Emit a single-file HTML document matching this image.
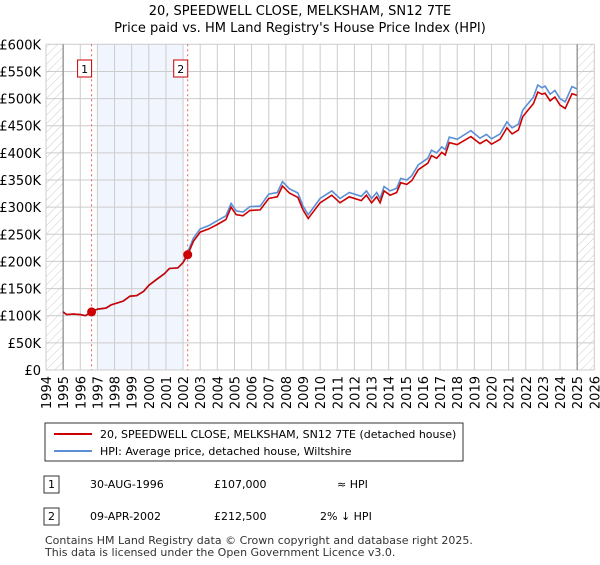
<!DOCTYPE html>
<html><head><meta charset="utf-8"><style>
body{margin:0;background:#fff;font-family:"Liberation Sans",sans-serif}
svg text{font-family:"DejaVu Sans","Liberation Sans",sans-serif}
</style></head><body>
<svg width="600" height="560" xmlns="http://www.w3.org/2000/svg">
<defs><pattern id="hatch" width="6" height="6" patternUnits="userSpaceOnUse" patternTransform="rotate(45)"><line x1="0" y1="0" x2="0" y2="6" stroke="#ccc" stroke-width="1"/></pattern></defs>
<text x="300" y="15" text-anchor="middle" font-size="13">20, SPEEDWELL CLOSE, MELKSHAM, SN12 7TE</text>
<text x="300" y="32" text-anchor="middle" font-size="13">Price paid vs. HM Land Registry's House Price Index (HPI)</text>
<g id="plot"></g>
<g>
<rect x="45" y="423" width="418" height="38" fill="#fff" stroke="#333"/>
<line x1="54" y1="434" x2="92" y2="434" stroke="#cc0000" stroke-width="2"/>
<text x="100" y="438" font-size="11">20, SPEEDWELL CLOSE, MELKSHAM, SN12 7TE (detached house)</text>
<line x1="54" y1="451" x2="92" y2="451" stroke="#5b8fd6" stroke-width="2"/>
<text x="100" y="455" font-size="11">HPI: Average price, detached house, Wiltshire</text>
</g>
<g font-size="11">
<rect x="44" y="476" width="15" height="17" fill="#fff" stroke="#333"/>
<text x="51.5" y="488" text-anchor="middle">1</text>
<text x="90" y="488">30-AUG-1996</text>
<text x="214" y="488">£107,000</text>
<text x="337" y="488">≈ HPI</text>
<rect x="44" y="508" width="15" height="17" fill="#fff" stroke="#333"/>
<text x="51.5" y="520" text-anchor="middle">2</text>
<text x="90" y="520">09-APR-2002</text>
<text x="214" y="520">£212,500</text>
<text x="320" y="520">2% ↓ HPI</text>
</g>
<text x="45" y="544" font-size="11" fill="#333">Contains HM Land Registry data © Crown copyright and database right 2025.</text>
<text x="45" y="556" font-size="11" fill="#333">This data is licensed under the Open Government Licence v3.0.</text>
</svg>
<script>
const years=[1995.0,1995.2,1995.6,1996.0,1996.3,1996.66,1997.0,1997.5,1997.8,1998.2,1998.5,1998.9,1999.3,1999.7,2000.0,2000.5,2000.9,2001.2,2001.7,2002.0,2002.27,2002.6,2003.0,2003.5,2004.0,2004.5,2004.8,2005.1,2005.5,2005.9,2006.5,2007.0,2007.5,2007.8,2008.2,2008.7,2009.0,2009.3,2010.0,2010.68,2011.16,2011.7,2012.4,2012.7,2013.0,2013.3,2013.5,2013.73,2014.08,2014.47,2014.7,2015.06,2015.35,2015.73,2016.28,2016.5,2016.8,2017.1,2017.3,2017.54,2018.0,2018.8,2019.33,2019.7,2020.0,2020.5,2020.9,2021.2,2021.57,2021.83,2022.45,2022.7,2022.94,2023.13,2023.42,2023.7,2024.0,2024.3,2024.7,2024.98];
const hpiValues=[107,102,103,102,100,107,112,114,120,124,127,136,137,145,156,168,177,187,188,198,217,243,260,266,275,284,307,293,291,301,302,324,327,347,334,326,302,286,316,330,316,327,320,330,316,327,316,338,330,335,353,350,358,378,390,405,400,411,406,429,425,441,427,434,426,435,457,446,453,479,503,525,520,523,508,515,500,494,522,518];
const priceValues=[107,102,103,102,100,107,112,114,120,124,127,136,137,145,156,168,177,187,188,198,212,237,254,260,268,277,300,286,284,294,295,316,319,339,326,318,295,279,308,322,308,319,312,322,308,319,308,330,322,327,345,342,349,369,381,395,390,401,396,419,415,430,417,424,416,425,446,435,442,467,491,512,508,510,496,503,488,482,509,506];
const saleYears=[1996.66,2002.27];
const saleValues=[107,212.5];
const saleLabels=["1","2"];
const yTicks=[0,50,100,150,200,250,300,350,400,450,500,550,600];
const yTickLabels=["£0","£50K","£100K","£150K","£200K","£250K","£300K","£350K","£400K","£450K","£500K","£550K","£600K"];
const xTicks=[1994,1995,1996,1997,1998,1999,2000,2001,2002,2003,2004,2005,2006,2007,2008,2009,2010,2011,2012,2013,2014,2015,2016,2017,2018,2019,2020,2021,2022,2023,2024,2025,2026];

const NS="http://www.w3.org/2000/svg";
const X0=46,X1=594.3,Y0=370,Y1=44.3;
const xs=y=>X0+(y-1994)/(2026-1994)*(X1-X0);
const ys=v=>Y0-v/600*(Y0-Y1);
const g=document.getElementById('plot');
function mk(t,a){const e=document.createElementNS(NS,t);for(const k in a)e.setAttribute(k,a[k]);g.appendChild(e);return e;}
let e;
e=mk('rect',{x:xs(1994),y:Y1,width:xs(1995)-xs(1994),height:Y0-Y1,fill:'url(#hatch)'});


e=mk('rect',{x:xs(2025),y:Y1,width:xs(2026)-xs(2025),height:Y0-Y1,fill:'url(#hatch)'});


e=mk('rect',{x:xs(1997),y:Y1,width:xs(2002)-xs(1997),height:Y0-Y1,fill:'#eef3fc',opacity:0.8});


yTicks.forEach((v,i)=>{
 e=mk('line',{x1:X0,x2:X1,y1:ys(v),y2:ys(v),stroke:'#ccc'});
 
 
 e=mk('text',{x:41,y:ys(v)+5,'text-anchor':'end','font-size':13});
 e.textContent=yTickLabels[i];
 
 
});
xTicks.forEach(t=>{
 e=mk('line',{x1:xs(t),x2:xs(t),y1:Y1,y2:Y0,stroke:'#ccc'});
 
 
 e=mk('text',{x:0,y:0,'text-anchor':'end','font-size':13,transform:`translate(${xs(t)+5},${Y0+6}) rotate(-90)`});
 e.textContent=t;
 
 
});
[1995,2025].forEach(t=>{
 e=mk('line',{x1:xs(t),x2:xs(t),y1:Y1,y2:Y0,stroke:'#888','stroke-width':1.2});
 
 
});
const pts=v=>years.map((y,i)=>xs(y).toFixed(1)+','+ys(v[i]).toFixed(1)).join(' ');
e=mk('polyline',{points:pts(hpiValues),fill:'none',stroke:'#5b8fd6','stroke-width':1.6});


e=mk('polyline',{points:pts(priceValues),fill:'none',stroke:'#cc0000','stroke-width':1.6});


saleYears.forEach((y,i)=>{
 e=mk('line',{x1:xs(y),x2:xs(y),y1:Y1,y2:Y0,stroke:'#e06060','stroke-dasharray':'2,3'});
 
 
 e=mk('rect',{x:xs(y)-14,y:60,width:14,height:17,fill:'#fff',stroke:'#cc0000'});
 
 
 e=mk('text',{x:xs(y)-7,y:73,'text-anchor':'middle','font-size':11});
 e.textContent=saleLabels[i];
 
 
 e=mk('circle',{cx:xs(y),cy:ys(saleValues[i]),r:4.5,fill:'#cc0000'});
 
 
});
</script>
</body></html>
